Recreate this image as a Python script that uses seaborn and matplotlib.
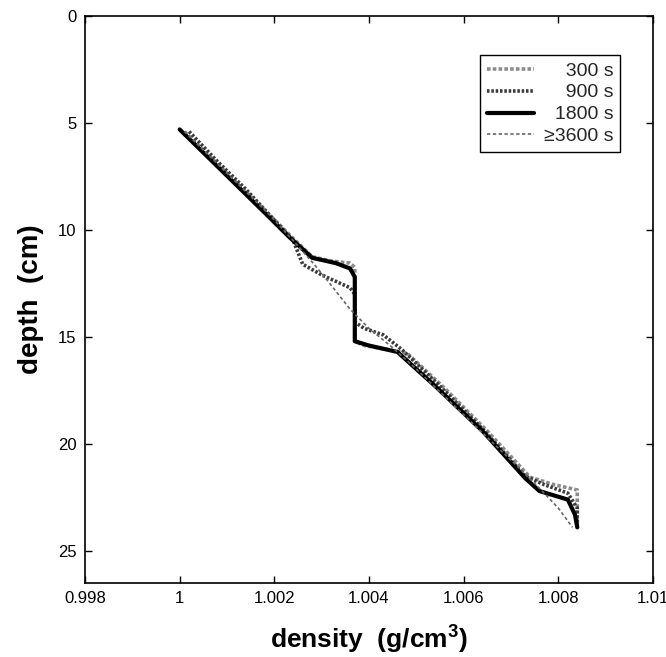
import matplotlib
matplotlib.use("Agg")
import matplotlib.pyplot as plt
import seaborn as sns
import pandas as pd

# density (g/cm3) and depth (cm)
dens_300 = [1.0001, 1.0007, 1.0013, 1.0019, 1.0024, 1.0028, 1.0032, 1.0036, 1.0037, 1.0037,
            1.0037, 1.0039, 1.0043, 1.0048, 1.0056, 1.0065, 1.0074, 1.0079, 1.0084, 1.0084, 1.0084]
depth_300 = [5.4, 6.7, 8.0, 9.3, 10.4, 11.25, 11.45, 11.55, 11.75, 13.5,
             15.2, 15.4, 15.55, 15.75, 17.4, 19.4, 21.55, 21.9, 22.15, 23.2, 23.9]

dens_900 = [1.0002, 1.0008, 1.0014, 1.0019, 1.0024, 1.0026, 1.0030, 1.0036, 1.0037, 1.0037,
            1.0039, 1.0043, 1.0047, 1.0055, 1.0064, 1.0073, 1.0077, 1.0082, 1.0084, 1.0084]
depth_900 = [5.4, 6.8, 8.1, 9.3, 10.5, 11.6, 12.1, 12.7, 13.0, 14.3,
             14.6, 14.9, 15.6, 17.3, 19.3, 21.5, 21.9, 22.3, 23.0, 23.9]

dens_1800 = [1.0000, 1.0006, 1.0012, 1.0018, 1.0023, 1.0028, 1.0033, 1.0036, 1.0037, 1.0037,
             1.0037, 1.0040, 1.0046, 1.0054, 1.0064, 1.0073, 1.0076, 1.0082, 1.00835, 1.0084]
depth_1800 = [5.3, 6.6, 7.9, 9.2, 10.3, 11.3, 11.55, 11.8, 12.2, 13.8,
              15.2, 15.4, 15.7, 17.3, 19.4, 21.6, 22.2, 22.6, 23.3, 23.9]

dens_3600 = [1.0001, 1.0007, 1.0013, 1.0019, 1.0024, 1.0028, 1.0031, 1.0036, 1.0040, 1.0045,
             1.0050, 1.0057, 1.0065, 1.0073, 1.0077, 1.0080, 1.0083]
depth_3600 = [5.4, 6.7, 8.0, 9.3, 10.5, 11.5, 12.3, 13.7, 14.6, 15.5,
              16.5, 18.0, 19.7, 21.4, 22.3, 23.0, 23.9]

labels = ["\u2007\u2007300 s", "\u2007\u2007900 s", "\u20071800 s", "\u22653600 s"]
colors = ["#8c8c8c", "#3a3a3a", "#000000", "#666666"]
widths = [2.6, 2.6, 3.0, 1.2]
styles = [(0, (1, 0.6)), (0, (0.7, 0.5)), "-", (0, (2, 1.5))]

x_ticks = [0.998, 1.0, 1.002, 1.004, 1.006, 1.008, 1.01]
x_tick_labels = ["0.998", "1", "1.002", "1.004", "1.006", "1.008", "1.01"]
y_ticks = [0, 5, 10, 15, 20, 25]

sns.set_style("ticks")
plt.rcParams["font.family"] = ["Liberation Sans", "DejaVu Sans"]
plt.rcParams["mathtext.fontset"] = "custom"
plt.rcParams["mathtext.bf"] = "Liberation Sans:bold"
plt.rcParams["mathtext.rm"] = "Liberation Sans"

fig = plt.figure(figsize=(6.66, 6.57), dpi=100)
ax = fig.add_axes([0.1276, 0.1126, 0.8529, 0.863])

series = [(dens_300, depth_300), (dens_900, depth_900), (dens_1800, depth_1800), (dens_3600, depth_3600)]
for (d, z), lab, c, lw, ls in zip(series, labels, colors, widths, styles):
    df = pd.DataFrame({"density": d, "depth": z})
    sns.lineplot(data=df, x="density", y="depth", sort=False, estimator=None,
                 color=c, linewidth=lw, linestyle=ls, label=lab, ax=ax)

ax.set_xlim(0.998, 1.01)
ax.set_ylim(26.5, 0)
ax.set_xticks(x_ticks)
ax.set_xticklabels(x_tick_labels)
ax.set_yticks(y_ticks)
ax.tick_params(direction="in", length=5, width=1, labelsize=12, top=True, right=True,
               color="black", labelcolor="black", pad=6)
for s in ax.spines.values():
    s.set_visible(True)
    s.set_linewidth(1.2)
    s.set_color("black")

ax.set_xlabel(r"density  (g/cm$^{\mathbf{3}}$)", fontsize=19, fontweight="bold",
              labelpad=11, color="black")
ax.set_ylabel("depth  (cm)", fontsize=20, fontweight="bold", labelpad=10, color="black")

leg = ax.legend(loc="upper right", bbox_to_anchor=(0.942, 0.931), borderaxespad=0,
                fontsize=14, frameon=True, fancybox=False, framealpha=1, edgecolor="black",
                handlelength=2.4, labelspacing=0.22, borderpad=0.35, handletextpad=0.5)
leg.get_frame().set_linewidth(1.0)

fig.savefig("out.png", dpi=100)
